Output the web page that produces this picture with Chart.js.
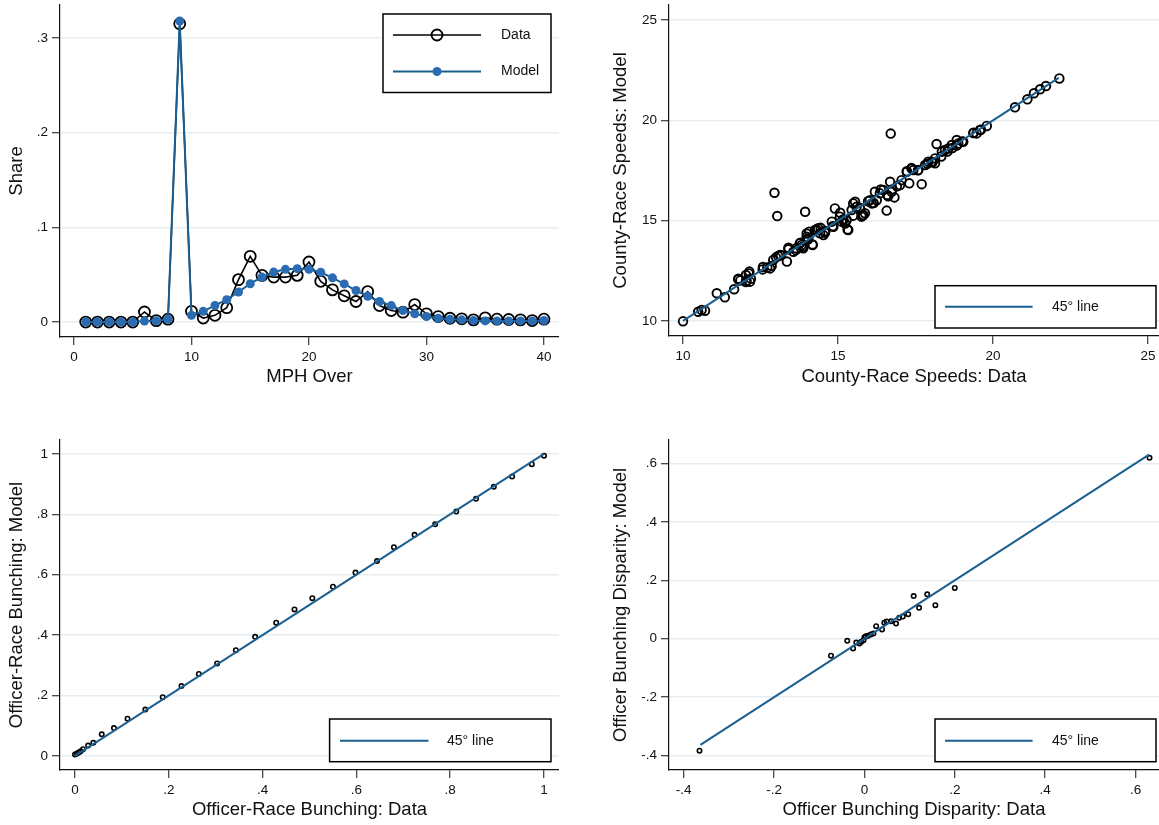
<!DOCTYPE html>
<html>
<head>
<meta charset="utf-8">
<script src="https://cdn.jsdelivr.net/npm/chart.js@4.4.1/dist/chart.umd.min.js"></script>
<style>
  body { margin: 0; background: #fff; }
  #wrap { position: relative; width: 1159px; height: 825px; }
  canvas { position: absolute; }
</style>
</head>
<body>
<div id="wrap">
  <canvas id="chart1" width="559" height="400" style="left:0;top:0"></canvas>
  <canvas id="chart2" width="579" height="400" style="left:580px;top:0"></canvas>
  <canvas id="chart3" width="559" height="405" style="left:0;top:420px"></canvas>
  <canvas id="chart4" width="579" height="405" style="left:580px;top:420px"></canvas>
</div>
<script>
// 1. Share by MPH over
var mph = [1,2,3,4,5,6,7,8,9,10,11,12,13,14,15,16,17,18,19,20,21,22,23,24,25,26,27,28,29,30,31,32,33,34,35,36,37,38,39,40];
var shareData = [0,0,0,0,0,0.0106,0.0015,0.003,0.315,0.0113,0.0042,0.0071,0.0152,0.0448,0.0694,0.0493,0.0475,0.0475,0.0493,0.0634,
                 0.043,0.034,0.0277,0.0217,0.0322,0.0174,0.0121,0.0104,0.0185,0.0087,0.0058,0.004,0.0034,0.0023,0.0044,0.003,0.0027,0.0023,0.0016,0.003];
var shareModel = [0,0,0,0,0,0.001,0.0013,0.003,0.318,0.0071,0.0113,0.0176,0.0236,0.0317,0.0405,0.0475,0.0528,0.0557,0.0564,0.0557,
                  0.0526,0.0467,0.0403,0.0333,0.0273,0.0217,0.0174,0.0121,0.0087,0.0058,0.004,0.003,0.0023,0.0016,0.0012,0.0012,0.0012,0.0012,0.0012,0.0016];
var mphTicks = [0, 10, 20, 30, 40];
var shareTicks = [0, 0.1, 0.2, 0.3];

// 2. County-race speeds
var countyData = [10.00,10.49,10.60,10.71,11.09,11.35,11.65,11.78,11.85,12.03,12.14,12.16,12.05,12.12,12.19,12.57,12.72,12.81,12.86,12.91,
                  13.00,13.07,13.13,12.95,13.04,13.35,13.40,13.56,13.65,13.77,13.86,13.94,13.99,14.04,13.83,13.88,13.99,14.07,14.18,14.26,
                  14.36,14.42,14.53,14.58,14.80,14.90,14.85,15.06,15.12,15.17,15.23,15.33,15.28,15.44,15.49,15.55,15.60,15.71,15.82,15.76,
                  15.87,16.03,16.09,16.19,16.25,16.35,16.46,16.57,16.59,16.68,16.73,16.82,16.70,17.00,17.05,17.22,17.30,17.38,17.43,17.59,
                  17.70,17.81,17.91,18.13,18.18,18.02,18.13,18.35,18.45,18.56,18.67,18.83,18.88,19.04,19.37,19.47,19.58,19.80,20.71,21.11,
                  21.32,21.52,21.71,22.14,
                  13.79,14.03,14.18,14.30,14.44,14.59,14.83,15.07,15.16,15.31,15.49,15.70,15.79,15.97,16.15,16.38,16.62,16.74,16.90,17.22,
                  17.37,17.58,17.88,18.05,18.33,18.53,18.69,18.83,19.01,19.37,19.61,11.79,12.03,12.58,13.16,13.40,13.64];
var countyModel = [9.98,10.46,10.55,10.51,11.38,11.18,11.58,12.08,12.02,12.29,12.46,11.96,12.01,12.37,12.11,12.57,12.67,12.62,12.74,13.04,
                   13.17,13.24,13.29,16.39,15.23,12.96,13.57,13.45,13.62,13.87,13.70,15.44,14.36,14.12,13.79,13.62,14.20,14.45,13.79,14.53,
                   14.62,14.37,14.28,14.40,14.95,15.61,14.70,15.20,14.95,15.03,14.86,14.53,15.03,15.53,15.86,15.94,15.69,15.61,15.28,15.20,
                   15.37,16.02,15.86,16.44,16.02,16.36,16.53,15.50,16.28,16.94,16.44,16.16,19.34,16.77,17.02,17.43,16.86,17.60,17.52,17.52,
                   16.82,17.77,17.94,18.10,18.82,17.94,17.86,18.44,18.52,18.60,18.77,19.02,18.85,18.93,19.38,19.35,19.52,19.72,20.65,21.05,
                   21.35,21.55,21.71,22.09,
                   13.90,14.06,13.81,14.56,14.64,14.48,14.72,15.39,15.06,14.56,15.25,15.64,15.25,15.97,15.88,16.55,16.22,16.55,16.71,17.46,
                   17.62,17.51,17.84,17.91,18.20,18.45,18.62,18.75,18.95,19.37,19.53,12.10,11.94,12.69,13.27,13.65,13.53];
var countyLine = [10, 22.12];
var countyTicks = [10, 15, 20, 25];

// 3. Officer-race bunching
var officerData = [0,0.004,0.008,0.012,0.017,0.028,0.039,0.057,0.083,0.112,0.150,0.187,0.227,0.264,0.303,0.343,
                   0.384,0.429,0.468,0.506,0.550,0.598,0.644,0.680,0.724,0.768,0.813,0.855,0.893,0.932,0.974,1.0];
var officerModel = [0.004,0.008,0.011,0.015,0.022,0.034,0.043,0.071,0.092,0.123,0.153,0.194,0.231,0.271,0.306,0.350,
                    0.394,0.441,0.485,0.522,0.560,0.607,0.645,0.691,0.732,0.767,0.809,0.851,0.891,0.925,0.966,0.994];
var officerLine = [0, 1];
var officerTicks = [0, 0.2, 0.4, 0.6, 0.8, 1];

// 4. Officer bunching disparity
var disparityData = [-0.365,-0.074,-0.038,-0.025,-0.018,-0.011,-0.007,-0.002,0,0.003,0.008,0.014,0.020,0.026,
                     0.039,0.044,0.049,0.059,0.070,0.077,0.085,0.097,0.109,0.121,0.139,0.157,0.200,0.631];
var disparityModel = [-0.383,-0.058,-0.007,-0.033,-0.013,-0.016,-0.010,-0.005,0.005,0.009,0.010,0.015,0.018,0.043,
                      0.032,0.055,0.059,0.060,0.052,0.072,0.076,0.084,0.146,0.106,0.152,0.115,0.174,0.619];
var disparityLine = [-0.363, 0.630];
var disparityTicks = [-0.4, -0.2, 0, 0.2, 0.4, 0.6];

var FONT = "'Liberation Sans', Arial, Helvetica, sans-serif";
var INK = '#111';
var BLUE_LINE = '#1b5f90';
var BLUE_DOT = '#2a6bb2';

function stataNum(v) {
    var s = String(Math.round(v * 1000) / 1000);
    return s.replace(/^0\./, '.').replace(/^-0\./, '-.');
}

function pairs(xs, ys) {
    return xs.map(function (x, i) { return { x: x, y: ys[i] }; });
}

function axis(pos, min, max, ticks, title, size, titlePad) {
    return {
        type: 'linear',
        position: pos,
        min: min,
        max: max,
        afterBuildTicks: function (s) { s.ticks = ticks.map(function (v) { return { value: v }; }); },
        afterFit: function (s) {
            if (pos === 'left') s.width = size; else s.height = size;
            // no auto padding for edge labels, the plot area is placed by hand
            s.paddingTop = 0; s.paddingBottom = 0; s.paddingLeft = 0; s.paddingRight = 0;
        },
        grid: {
            drawOnChartArea: pos === 'left',
            color: '#e6eef1',
            lineWidth: 1.5,
            tickLength: 8,
            tickColor: INK,
            tickWidth: 1
        },
        border: { display: true, color: INK, width: 1.2 },
        ticks: {
            color: INK,
            font: { family: FONT, size: 13.5 },
            padding: 4,
            maxRotation: 0,
            autoSkip: false,
            callback: function (v) { return stataNum(v); }
        },
        title: { display: true, text: title, color: INK, font: { family: FONT, size: 18.5 }, padding: titlePad }
    };
}

// legend box drawn inside the plot like Stata does
var boxLegend = {
    id: 'boxLegend',
    afterDraw: function (chart, args, opts) {
        if (!opts.items) return;
        var ctx = chart.ctx;
        ctx.save();
        ctx.fillStyle = '#fff';
        ctx.fillRect(opts.x, opts.y, opts.w, opts.h);
        ctx.strokeStyle = '#000';
        ctx.lineWidth = 1.5;
        ctx.strokeRect(opts.x, opts.y, opts.w, opts.h);
        opts.items.forEach(function (it) {
            var ds = chart.data.datasets[it.ds];
            ctx.strokeStyle = ds.borderColor;
            ctx.lineWidth = ds.borderWidth;
            ctx.beginPath();
            ctx.moveTo(it.x1, it.y);
            ctx.lineTo(it.x2, it.y);
            ctx.stroke();
            if (ds.pointRadius > 0) {
                ctx.beginPath();
                ctx.arc((it.x1 + it.x2) / 2, it.y, ds.pointRadius, 0, Math.PI * 2);
                ctx.fillStyle = ds.pointBackgroundColor;
                ctx.fill();
                if (ds.pointBorderWidth > 0) {
                    ctx.lineWidth = ds.pointBorderWidth;
                    ctx.strokeStyle = ds.pointBorderColor;
                    ctx.stroke();
                }
            }
            ctx.fillStyle = INK;
            ctx.font = '14px ' + FONT;
            ctx.textBaseline = 'middle';
            ctx.textAlign = 'left';
            ctx.fillText(it.text, it.tx, it.y);
        });
        ctx.restore();
    }
};

function baseOptions(xAxis, yAxis, padTop, legend) {
    return {
        responsive: false,
        animation: false,
        layout: { autoPadding: false, padding: { top: padTop, left: 0, right: 0, bottom: 0 } },
        scales: { x: xAxis, y: yAxis },
        plugins: {
            legend: { display: false },
            tooltip: { enabled: false },
            boxLegend: legend
        }
    };
}

function diagonal(ends) {
    return {
        label: '45\u00b0 line',
        data: pairs(ends, ends),
        showLine: true,
        borderColor: BLUE_LINE,
        borderWidth: 2,
        pointRadius: 0
    };
}

function smallDots(xs, ys) {
    return {
        label: 'points',
        data: pairs(xs, ys),
        pointRadius: 2.2,
        pointBorderWidth: 1.6,
        pointBorderColor: '#000',
        pointBackgroundColor: 'rgba(0,0,0,0)'
    };
}

new Chart(document.getElementById('chart1'), {
    type: 'scatter',
    plugins: [boxLegend],
    data: {
        datasets: [{
            label: 'Model',
            data: pairs(mph, shareModel),
            showLine: true,
            borderColor: BLUE_LINE,
            borderWidth: 2,
            pointRadius: 4.5,
            pointBorderWidth: 0,
            pointBorderColor: BLUE_DOT,
            pointBackgroundColor: BLUE_DOT
        }, {
            label: 'Data',
            data: pairs(mph, shareData),
            showLine: true,
            borderColor: '#000',
            borderWidth: 1.6,
            pointRadius: 5.5,
            pointBorderWidth: 1.8,
            pointBorderColor: '#000',
            pointBackgroundColor: 'rgba(0,0,0,0)'
        }]
    },
    options: baseOptions(
        axis('bottom', -1.19, 41.28, mphTicks, 'MPH Over', 63, { top: 0, bottom: 12 }),
        axis('left', -0.0158, 0.3349, shareTicks, 'Share', 60, { top: 6, bottom: 0 }),
        5,
        { x: 383, y: 14, w: 168, h: 78.5, items: [
            { ds: 1, x1: 393, x2: 481, y: 35, tx: 501, text: 'Data' },
            { ds: 0, x1: 393, x2: 481, y: 71.5, tx: 501, text: 'Model' }
        ] }
    )
});

new Chart(document.getElementById('chart2'), {
    type: 'scatter',
    plugins: [boxLegend],
    data: {
        datasets: [diagonal(countyLine), {
            label: 'County-race',
            data: pairs(countyData, countyModel),
            pointRadius: 4.3,
            pointBorderWidth: 1.9,
            pointBorderColor: '#000',
            pointBackgroundColor: 'rgba(0,0,0,0)'
        }]
    },
    options: baseOptions(
        axis('bottom', 9.548, 25.355, countyTicks, 'County-Race Speeds: Data', 64, { top: 0, bottom: 12 }),
        axis('left', 9.25, 25.75, countyTicks, 'County-Race Speeds: Model', 89, { top: 30, bottom: 0 }),
        5,
        { x: 355, y: 285.7, w: 221, h: 42.3, items: [
            { ds: 0, x1: 365, x2: 452.6, y: 306.7, tx: 472, text: '45\u00b0 line' }
        ] }
    )
});

new Chart(document.getElementById('chart3'), {
    type: 'scatter',
    plugins: [boxLegend],
    data: {
        datasets: [diagonal(officerLine), smallDots(officerData, officerModel)]
    },
    options: baseOptions(
        axis('bottom', -0.032, 1.032, officerTicks, 'Officer-Race Bunching: Data', 55, { top: 0, bottom: 4 }),
        axis('left', -0.047, 1.046, officerTicks, 'Officer-Race Bunching: Model', 60, { top: 6, bottom: 0 }),
        20,
        { x: 329.6, y: 299, w: 221.4, h: 42.7, items: [
            { ds: 0, x1: 340, x2: 428.5, y: 320.7, tx: 447, text: '45\u00b0 line' }
        ] }
    )
});

new Chart(document.getElementById('chart4'), {
    type: 'scatter',
    plugins: [boxLegend],
    data: {
        datasets: [diagonal(disparityLine), smallDots(disparityData, disparityModel)]
    },
    options: baseOptions(
        axis('bottom', -0.4325, 0.652, disparityTicks, 'Officer Bunching Disparity: Data', 55, { top: 0, bottom: 4 }),
        axis('left', -0.449, 0.68, disparityTicks, 'Officer Bunching Disparity: Model', 89, { top: 30, bottom: 0 }),
        20,
        { x: 355, y: 299, w: 221, h: 42.7, items: [
            { ds: 0, x1: 365, x2: 452.6, y: 320.7, tx: 472, text: '45\u00b0 line' }
        ] }
    )
});
</script>
</body>
</html>
